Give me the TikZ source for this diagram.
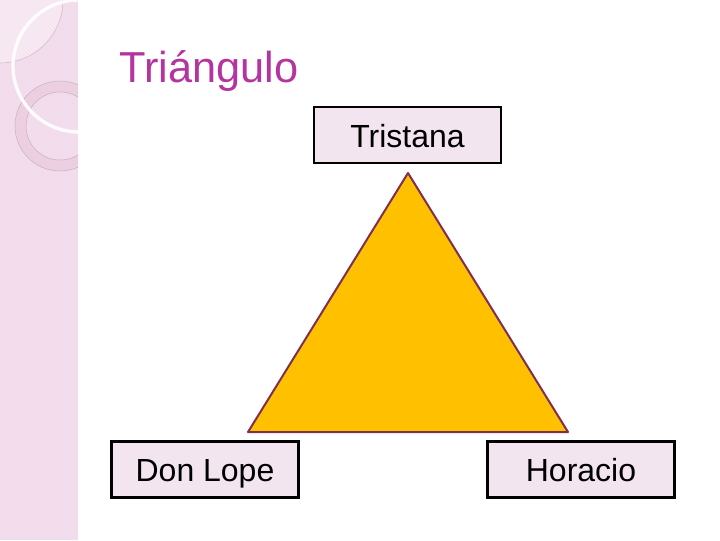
\documentclass[tikz,border=0pt]{standalone}
\usepackage{fontspec}
\setmainfont{Liberation Sans}
\usetikzlibrary{patterns}
\definecolor{stripbg}{HTML}{F1DAEA}
\definecolor{stripdot}{HTML}{F8ECF4}
\definecolor{titlecol}{HTML}{B4359F}
\definecolor{boxfill}{HTML}{F3E5EF}
\definecolor{trifill}{HTML}{FFC000}
\definecolor{triedge}{HTML}{7F2F4F}
\definecolor{ringcol}{HTML}{E8C8DC}
\tikzset{
  namebox/.style={draw=black, line width=1.6pt, fill=boxfill, minimum width=140.25pt, minimum height=42pt, inner sep=0pt, text height=20pt, text depth=2pt, font=\fontsize{24}{28}\selectfont},
}
\begin{document}
\begin{tikzpicture}[x=0.75pt,y=-0.75pt]
\useasboundingbox (0,0) rectangle (720,540);
\fill[white] (0,0) rectangle (720,540);
% left strip
\fill[stripbg] (0,0) rectangle (78,540);
\fill[pattern=crosshatch dots, pattern color=stripdot] (0,0) rectangle (78,540);
\begin{scope}
\clip (0,0) rectangle (78,540);
\fill[white, opacity=0.35] (0,0) circle (63);
\draw[ringcol!80!gray, line width=0.4pt] (0,0) circle (63);
\fill[ringcol, opacity=0.6, even odd rule] (60,126) circle (45) (60,126) circle (34);
\draw[ringcol!70!gray, line width=0.4pt] (60,126) circle (45) (60,126) circle (34);
\draw[white, line width=2.5pt, opacity=0.9] (79,66) circle (66);
\end{scope}
% title
\node[anchor=base west, text=titlecol, font=\fontsize{32.5}{36}\selectfont, inner sep=0pt] (title) at (119,82) {Triángulo};
% triangle
\coordinate (apex) at (408,173);
\coordinate (bl) at (248,432);
\coordinate (br) at (568,432);
\filldraw[fill=trifill, draw=triedge, line width=1.5pt, line join=round] (apex) -- (bl) -- (br) -- cycle;
% boxes
\node[namebox] (tristana) at (407.5,135) {Tristana};
\node[namebox] (donlope) at (205,469.5) {Don Lope};
\node[namebox] (horacio) at (581,469.5) {Horacio};
\end{tikzpicture}
\end{document}
